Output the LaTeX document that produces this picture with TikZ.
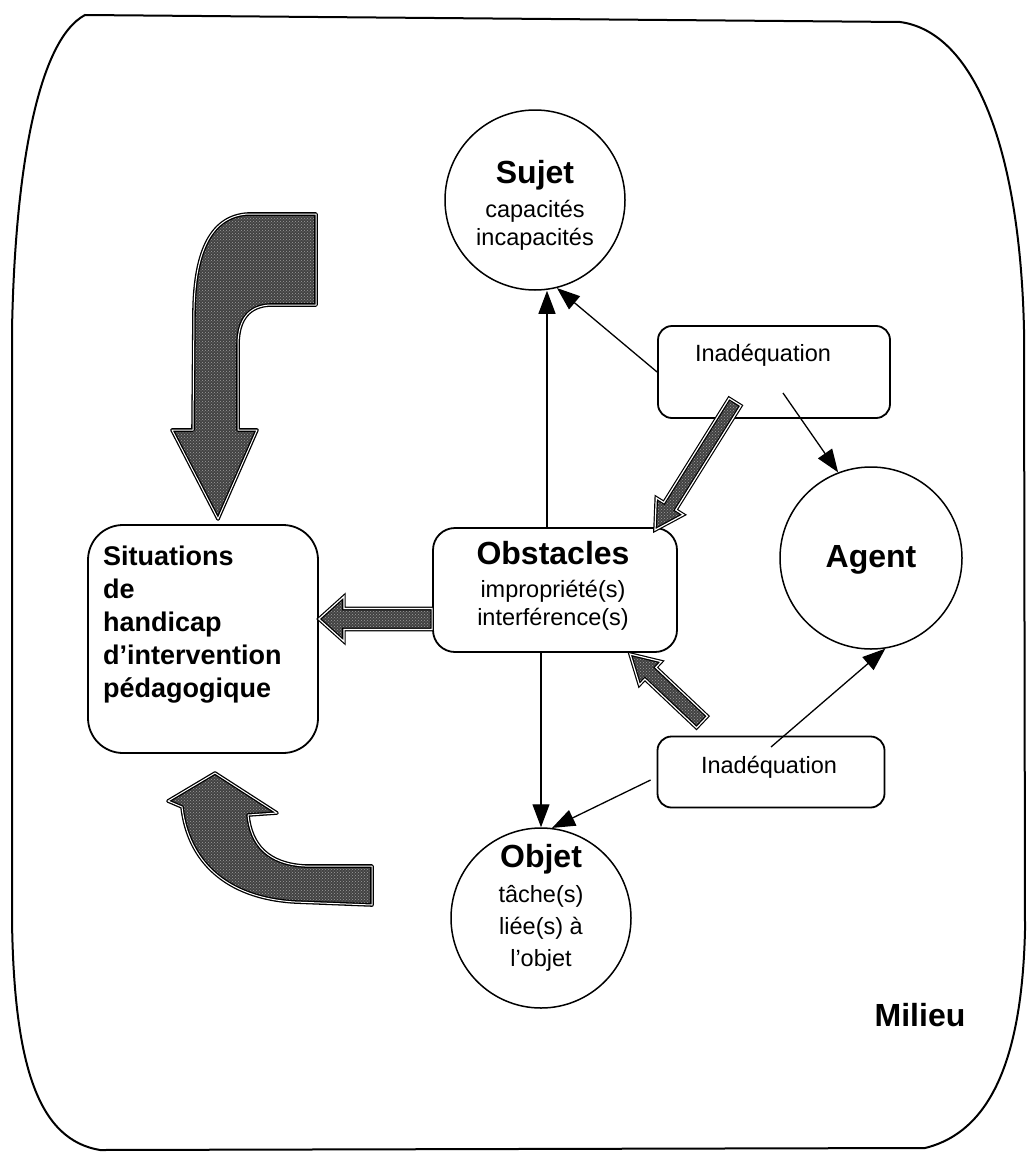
\documentclass[tikz,border=0pt]{standalone}
\usepackage{fontspec}
\setmainfont{Liberation Sans}
\usetikzlibrary{arrows.meta,calc,patterns}

% Block arrow with a double outline and a grainy fill:
% #1 tail, #2 tip, #3 shaft half-width, #4 head half-width, #5 head length
\newcommand\blockarrow[5]{%
  \path[hatch] let \p1=(#1), \p2=(#2),
    \n1={atan2(\y2-\y1,\x2-\x1)}, \n2={veclen(\x2-\x1,\y2-\y1)} in
    [shift={(\p1)}, rotate=\n1]
    (0,-#3) -- ({\n2-#5},-#3) -- ({\n2-#5},-#4) -- (\n2,0)
    -- ({\n2-#5},#4) -- ({\n2-#5},#3) -- (0,#3) -- cycle;
}

\begin{document}
\begin{tikzpicture}[x=1pt,y=-1pt,
  milieuframe/.style={line width=2pt},
  bubble/.style={circle,draw,line width=1.5pt,inner sep=0pt},
  rbox/.style={draw,line width=1.8pt,inner sep=0pt},
  conn/.style={line width=1.3pt,-{Triangle[length=23pt,width=17pt]}},
  title/.style={font=\fontsize{32}{34}\selectfont\bfseries,inner sep=0pt},
  txt/.style={font=\fontsize{23.5}{28}\selectfont,inner sep=0pt},
  grain/.style={preaction={fill=black!74},
                preaction={pattern=crosshatch dots,pattern color=black!38}},
  hatch/.style={grain,draw=black,line width=1.2pt,double=white,double distance=1.2pt},
  bigarrow/.style={grain,draw=black,line width=1.3pt,double=white,double distance=1pt,line join=round},
]
\useasboundingbox (0,0) rectangle (1029,1156);

% Milieu frame
\draw[milieuframe] (85,15) -- (900,22)
  .. controls (975,32) and (1020,150) .. (1024,330) -- (1025,930)
  .. controls (1022,1060) and (990,1132) .. (925,1148) -- (100,1150)
  .. controls (40,1140) and (14,1070) .. (12,920) -- (12,330)
  .. controls (15,170) and (38,40) .. (85,15) -- cycle;
\node[title] (milieu) at (920,1015) {Milieu};

% Circles
\node[bubble,minimum size=180pt] (sujet) at (535,200) {};
\node[txt,anchor=north,align=center] (sujet-t) at (535,160)
  {{\fontsize{32}{34}\selectfont\bfseries Sujet}\\[6pt]capacités\\incapacités};

\node[bubble,minimum size=182pt] (agent) at (871,558) {};
\node[title] (agent-t) at (871,560) {Agent};

\node[bubble,minimum size=180pt] (objet) at (541,918) {};
\node[txt,anchor=north,align=center,font=\fontsize{23.5}{32}\selectfont] (objet-t) at (541,844)
  {{\fontsize{32}{34}\selectfont\bfseries Objet}\\[3pt]tâche(s)\\liée(s) à\\l’objet};

% Boxes
\node[rbox,rounded corners=22pt,minimum width=244pt,minimum height=124pt] (obst) at (555,590) {};
\node[txt,anchor=north,align=center] (obst-t) at (553,541)
  {{\fontsize{32}{34}\selectfont\bfseries Obstacles}\\[5pt]impropriété(s)\\interférence(s)};

\node[rbox,rounded corners=35pt,minimum width=230pt,minimum height=228pt] (sit) at (203,639) {};
\node[anchor=north west,align=left,inner sep=0pt,font=\fontsize{27}{33}\selectfont\bfseries] (sit-t) at (103,546)
  {Situations\\de\\handicap\\d’intervention\\pédagogique};

\node[rbox,rounded corners=14pt,minimum width=232pt,minimum height=92pt] (inad1) at (774,372) {};
\node[txt] (inad1-t) at (763,355) {Inadéquation};

\node[rbox,rounded corners=14pt,minimum width=227pt,minimum height=71pt] (inad2) at (771,772) {};
\node[txt] (inad2-t) at (769,767) {Inadéquation};

% Thin connectors
\draw[conn] ([xshift=-8pt]obst.north) -- ([xshift=-8pt]obst.north |- sujet.south);
\draw[conn] (obst.south -| objet.north) -- (objet.north);
\draw[conn] (inad1.west) -- (sujet.-76);
\draw[conn] ([xshift=9pt,yshift=-21pt]inad1.center) -- (agent.111);
\draw[conn] ([yshift=25pt]inad2.center) -- (agent.-81);
\draw[conn] ([xshift=-6pt,yshift=-8pt]inad2.west) -- (objet.83);

% Block arrows
\coordinate (a1s) at (735,402);
\coordinate (a1e) at (655,530);
\coordinate (a2s) at (702,722);
\coordinate (a2e) at (630,654);
\coordinate (a3s) at ([yshift=-29pt]obst.west);
\coordinate (a3e) at (sit.east |- a3s);
\blockarrow{a1s}{a1e}{7}{16}{28}
\blockarrow{a2s}{a2e}{8}{16}{28}
\blockarrow{a3s}{a3e}{10.5}{22.5}{25}

% Large curved arrows
\path[bigarrow] (316,214) -- (248,214)
  .. controls (212,216) and (195,250) .. (194,310) -- (193,430)
  -- (172,430) -- (218,519) -- (257,430) -- (238,430) -- (238,345)
  .. controls (238,318) and (250,306) .. (270,305) -- (316,305) -- cycle;

\path[bigarrow] (372,866) -- (372,905) -- (295,902)
  .. controls (225,898) and (188,860) .. (182,807)
  -- (168,801) -- (215,773) -- (277,813) -- (248,815)
  .. controls (251,845) and (268,864) .. (305,866) -- cycle;
\end{tikzpicture}
\end{document}
